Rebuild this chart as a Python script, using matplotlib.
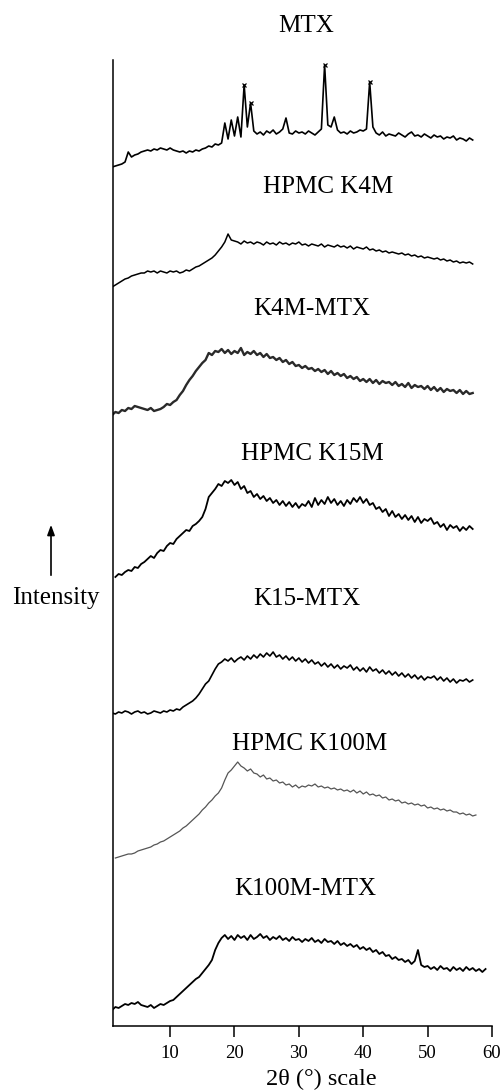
import numpy as np
import matplotlib
matplotlib.use("Agg")
import matplotlib.pyplot as plt

plt.rcParams['font.family'] = ['Liberation Serif', 'DejaVu Serif']

# Sample names (top to bottom)
names = ['MTX', 'HPMC K4M', 'K4M-MTX', 'HPMC K15M', 'K15-MTX', 'HPMC K100M', 'K100M-MTX']

# Scan start (2theta, deg) and step of every pattern
start_angles = [1.0, 1.0, 1.0, 1.5, 1.0, 1.5, 1.0]
step = 0.5

# Intensities (arbitrary units, relative to first point)
mtx = [0, 1, 2, 3, 5, 15, 10, 12, 13, 15,
       16, 17, 16, 18, 17, 19, 18, 17, 19, 17,
       16, 15, 16, 14, 16, 15, 17, 16, 18, 19,
       21, 20, 23, 22, 24, 44, 28, 47, 31, 50,
       30, 82, 40, 64, 36, 33, 35, 32, 36, 34,
       37, 33, 35, 38, 49, 34, 33, 36, 34, 35,
       33, 36, 34, 32, 35, 38, 102, 42, 40, 50,
       37, 34, 35, 33, 36, 34, 35, 37, 36, 38,
       85, 40, 34, 32, 35, 31, 33, 32, 31, 34,
       32, 30, 33, 35, 31, 32, 30, 33, 31, 29,
       32, 30, 31, 28, 30, 29, 31, 27, 29, 28,
       26, 29, 27]

k4m = [0, 2, 4, 6, 8, 9, 11, 12, 13, 14,
       14, 16, 15, 16, 14, 16, 15, 14, 16, 15,
       16, 14, 15, 17, 16, 18, 20, 21, 23, 25,
       27, 29, 32, 36, 40, 45, 53, 47, 46, 45,
       43, 46, 44, 45, 43, 45, 44, 42, 45, 43,
       44, 42, 45, 43, 44, 42, 44, 43, 45, 42,
       43, 41, 43, 42, 41, 43, 40, 42, 41, 40,
       42, 40, 41, 39, 41, 38, 40, 39, 38, 40,
       37, 38, 36, 37, 35, 36, 34, 35, 34, 33,
       34, 32, 33, 31, 32, 30, 31, 29, 30, 29,
       28, 29, 27, 28, 26, 27, 25, 26, 24, 25,
       24, 25, 23]

k4m_mtx = [0, 3, 2, 5, 4, 7, 6, 9, 8, 7,
           6, 5, 7, 4, 5, 6, 8, 11, 10, 13,
           15, 20, 24, 30, 35, 39, 44, 48, 52, 55,
           62, 60, 64, 63, 66, 62, 65, 61, 64, 62,
           67, 60, 63, 61, 64, 60, 62, 58, 61, 57,
           58, 55, 57, 53, 55, 51, 53, 49, 50, 47,
           49, 46, 47, 44, 46, 43, 45, 41, 44, 40,
           42, 39, 41, 37, 39, 36, 38, 34, 36, 33,
           36, 32, 35, 31, 34, 32, 33, 30, 33, 29,
           31, 28, 32, 27, 30, 28, 29, 26, 29, 25,
           28, 24, 27, 23, 26, 24, 25, 22, 25, 21,
           24, 21, 22]

k15m = [0, 3, 2, 5, 7, 6, 10, 9, 13, 15,
        18, 21, 19, 24, 27, 26, 31, 34, 33, 38,
        41, 44, 47, 46, 51, 53, 56, 60, 68, 80,
        84, 88, 93, 91, 96, 94, 97, 92, 95, 88,
        91, 84, 86, 80, 83, 78, 81, 76, 79, 74,
        77, 72, 76, 71, 75, 70, 74, 69, 73, 71,
        76, 70, 79, 72, 77, 73, 80, 74, 78, 72,
        76, 71, 77, 73, 79, 75, 80, 74, 78, 72,
        74, 68, 70, 65, 68, 61, 66, 60, 63, 58,
        62, 57, 61, 55, 60, 54, 58, 56, 59, 53,
        55, 50, 53, 47, 52, 49, 51, 46, 50, 47,
        51, 48]

k15_mtx = [0, -1, 1, 0, 2, 1, -1, 1, 2, 0,
           1, -1, 0, 2, 1, 0, 2, 1, 3, 2,
           4, 3, 6, 8, 10, 12, 15, 19, 24, 29,
           32, 38, 44, 49, 51, 54, 52, 55, 51, 54,
           56, 53, 57, 54, 58, 55, 59, 56, 60, 57,
           61, 56, 58, 54, 57, 53, 56, 52, 55, 51,
           54, 50, 53, 49, 51, 47, 50, 46, 49, 45,
           48, 44, 47, 45, 48, 43, 46, 42, 45, 41,
           46, 42, 44, 40, 43, 39, 42, 38, 41, 37,
           40, 36, 39, 35, 38, 34, 37, 33, 36, 35,
           37, 33, 36, 32, 35, 31, 34, 30, 33, 32,
           34, 31, 33]

k100m = [0, 1, 2, 3, 4, 4, 5, 7, 8, 9,
         10, 11, 13, 14, 16, 17, 19, 21, 23, 25,
         27, 30, 32, 35, 38, 41, 44, 48, 51, 55,
         58, 62, 65, 70, 78, 85, 88, 92, 96, 92,
         90, 87, 89, 85, 84, 81, 83, 79, 80, 77,
         78, 75, 76, 73, 74, 71, 73, 70, 72, 71,
         73, 72, 74, 71, 72, 70, 71, 69, 70, 68,
         69, 67, 68, 66, 68, 65, 67, 64, 66, 63,
         64, 62, 63, 60, 61, 58, 59, 57, 58, 55,
         56, 54, 55, 53, 54, 52, 53, 50, 51, 49,
         50, 48, 49, 47, 48, 46, 46, 44, 45, 43,
         44, 42, 43]

k100m_mtx = [0, 3, 2, 4, 6, 5, 7, 6, 8, 5,
             4, 3, 5, 2, 4, 6, 5, 7, 9, 10,
             13, 16, 19, 22, 25, 28, 31, 33, 37, 41,
             45, 50, 60, 67, 72, 75, 71, 74, 70, 75,
             72, 74, 70, 75, 71, 73, 76, 72, 74, 70,
             73, 71, 74, 70, 72, 69, 73, 70, 71, 68,
             71, 69, 72, 68, 70, 67, 71, 68, 69, 66,
             69, 65, 67, 64, 66, 63, 65, 61, 63, 60,
             62, 58, 60, 56, 58, 54, 55, 51, 53, 50,
             51, 48, 50, 46, 49, 60, 45, 43, 44, 41,
             43, 40, 44, 41, 42, 39, 43, 40, 42, 39,
             43, 40, 42, 39, 41, 38, 41]

patterns = [mtx, k4m, k4m_mtx, k15m, k15_mtx, k100m, k100m_mtx]

# MTX reflections marked on top of the peaks
mtx_peaks = [21.5, 22.5, 34.0, 41.0]

# Stacking offsets (vertical shift of each trace)
offsets = [859, 739, 611, 449, 313, 168, 16]
colors = ['black', 'black', '#2a2a2a', 'black', 'black', '#555555', 'black']
widths = [1.2, 1.1, 1.7, 1.3, 1.2, 0.9, 1.3]

W, H = 504, 1092
fig = plt.figure(figsize=(W / 100, H / 100), dpi=100)
ax = fig.add_axes([113 / W, 66 / H, 379 / W, 966 / H])

for i in range(len(patterns)):
    vals = np.array(patterns[i], dtype=float)
    two_theta = start_angles[i] + step * np.arange(len(vals))
    ax.plot(two_theta, offsets[i] + vals, color=colors[i], lw=widths[i])

# peak markers on MTX
mtx_theta = start_angles[0] + step * np.arange(len(mtx))
for p in mtx_peaks:
    k = int(np.argmin(np.abs(mtx_theta - p)))
    ax.plot(p, offsets[0] + mtx[k], marker='x', ms=3.5, mew=0.9, color='black')

ax.set_xlim(1.13, 60)
ax.set_ylim(0, 966)
ax.spines['top'].set_visible(False)
ax.spines['right'].set_visible(False)
ax.spines['left'].set_linewidth(1.1)
ax.spines['bottom'].set_linewidth(1.1)
ax.set_yticks([])
ax.set_xticks([10, 20, 30, 40, 50, 60])
ax.tick_params(axis='x', direction='out', length=8, width=1.1, labelsize=13.5, pad=6)


def fxy(x, y):
    # figure fraction from pixel position
    return x / W, 1 - y / H


# sample labels (centre x, baseline y in pixels)
label_pos = [(306, 32), (328, 193), (312, 315), (312, 460), (307, 605), (310, 750), (305, 895)]
for name, (lx, ly) in zip(names, label_pos):
    fig.text(*fxy(lx, ly), name, ha='center', va='baseline', fontsize=18)

fig.text(*fxy(321, 1085), u'2\u03b8 (\u00b0) scale', ha='center', va='baseline', fontsize=17.5)
fig.text(*fxy(56, 604), 'Intensity', ha='center', va='baseline', fontsize=18)

# arrow pointing up
ax.annotate('', xy=fxy(51, 522), xytext=fxy(51, 578), xycoords='figure fraction',
            textcoords='figure fraction',
            arrowprops=dict(arrowstyle='-|>,head_length=0.6,head_width=0.22', color='black', lw=1.2))

fig.savefig('out.png', dpi=100)
